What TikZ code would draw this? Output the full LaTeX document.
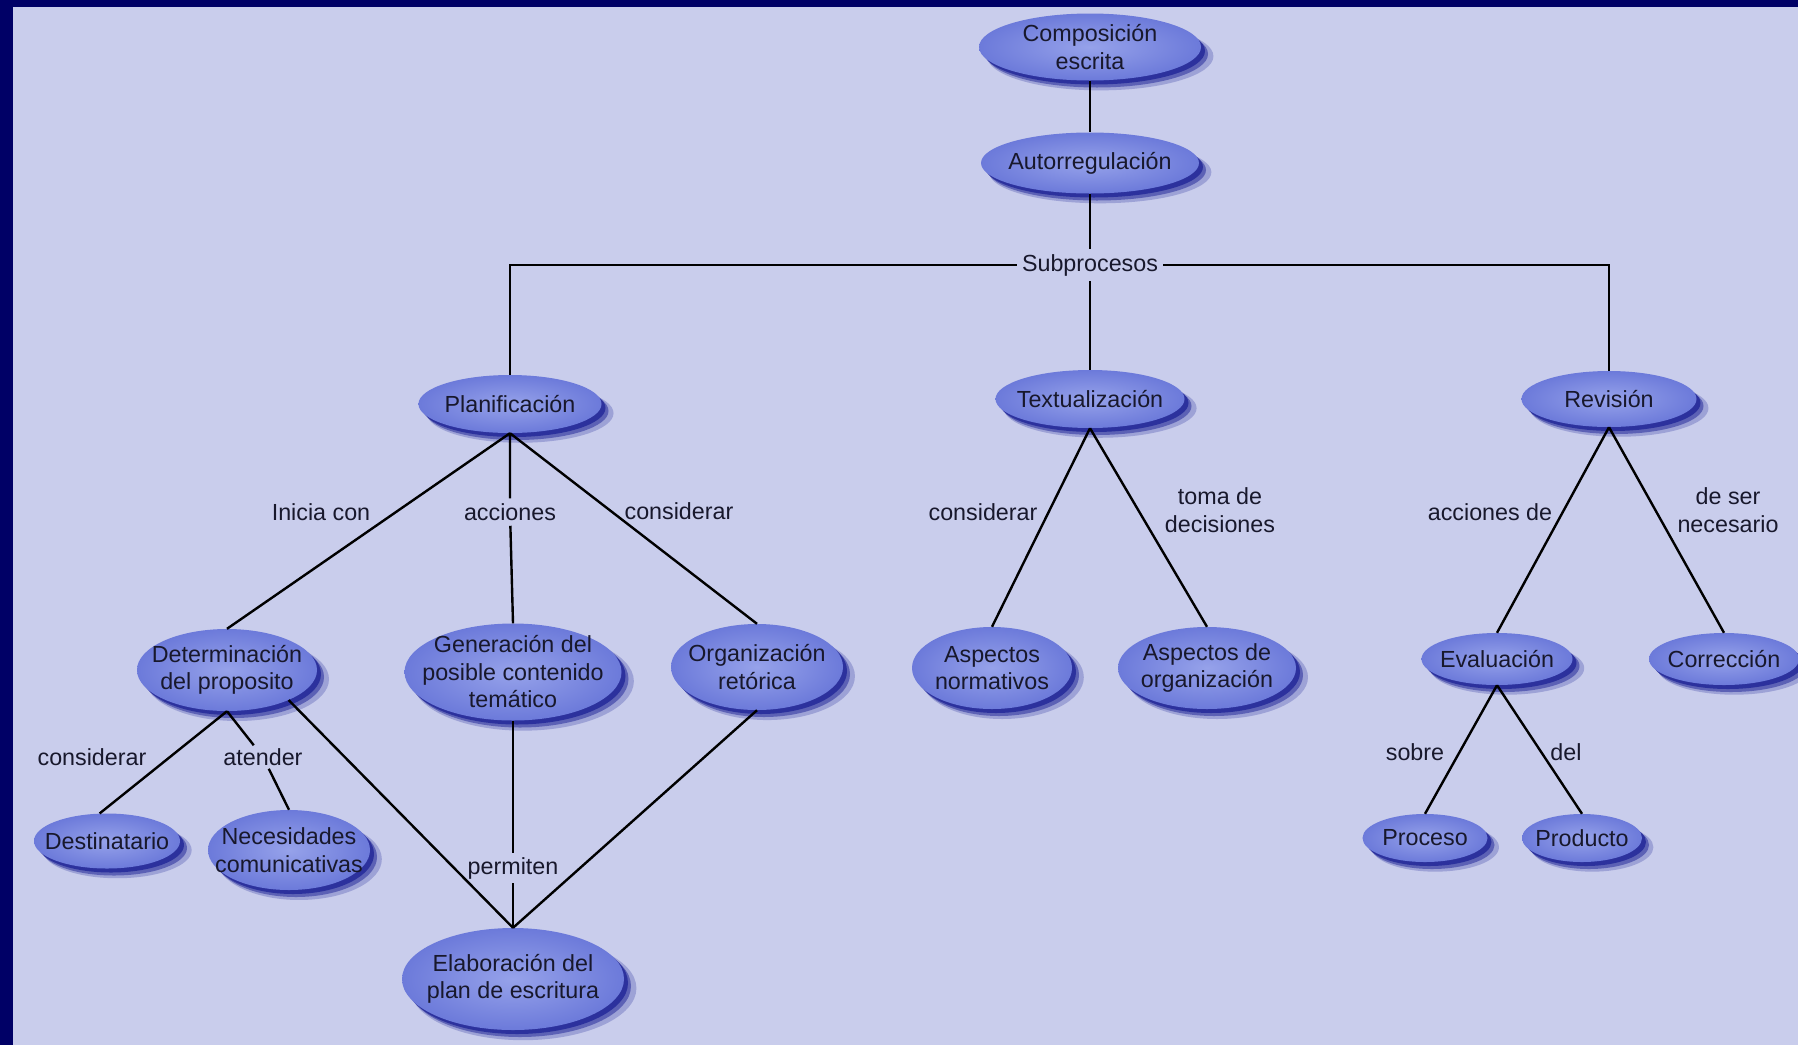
\documentclass[tikz,border=0pt]{standalone}
\usepackage{fontspec}
\setmainfont{Liberation Sans}
\usetikzlibrary{shapes.geometric,shadows}
\definecolor{navy}{RGB}{0,0,102}
\definecolor{bgc}{RGB}{201,205,236}
\definecolor{ellin}{RGB}{150,162,234}
\definecolor{ellout}{RGB}{108,122,218}
\definecolor{shd}{RGB}{28,34,150}
\definecolor{txt}{RGB}{24,24,44}
\tikzset{
  fnt/.style={font=\fontsize{23.3}{27.5}\selectfont, text=txt},
  bub/.style={ellipse, inner sep=0pt,
    general shadow={fill=shd, opacity=0.25, shadow xshift=10pt, shadow yshift=-9pt, shadow scale=1.02},
    general shadow={fill=shd, opacity=0.5, shadow xshift=7pt, shadow yshift=-7pt},
    general shadow={fill=shd, opacity=0.75, shadow xshift=4pt, shadow yshift=-4pt},
    inner color=ellin, outer color=ellout},
  lab/.style={fnt, inner sep=3pt, align=center},
  con/.style={draw=black, line width=2.4pt},
}
\begin{document}
\begin{tikzpicture}[x=1pt, y=-1pt]
\fill[navy] (0,0) rectangle (1798,1045);
\fill[bgc] (13,7) rectangle (1798,1045);
\useasboundingbox (0,0) rectangle (1798,1045);

% concept nodes
\node[bub, minimum width=222pt, minimum height=67pt, label={[lab]center:Composición\\escrita}] (comp) at (1090,47) {};
\node[bub, minimum width=218pt, minimum height=61pt, label={[lab]center:Autorregulación}] (auto) at (1090,163) {};
\node[bub, minimum width=183pt, minimum height=58pt, label={[lab]center:Planificación}] (plan) at (510,404) {};
\node[bub, minimum width=189pt, minimum height=58pt, label={[lab]center:Textualización}] (tex) at (1090,399) {};
\node[bub, minimum width=175pt, minimum height=56pt, label={[lab]center:Revisión}] (rev) at (1609,399) {};
\node[bub, minimum width=180pt, minimum height=82pt, label={[lab]center:Determinación\\del proposito}] (det) at (227,670) {};
\node[bub, minimum width=217pt, minimum height=97pt, label={[lab]center:Generación del\\posible contenido\\temático}] (gen) at (513,672) {};
\node[bub, minimum width=172pt, minimum height=86pt, label={[lab]center:Organización\\retórica}] (org) at (757,667) {};
\node[bub, minimum width=146pt, minimum height=55pt, label={[lab]center:Destinatario}] (dest) at (107,841) {};
\node[bub, minimum width=162pt, minimum height=80pt, label={[lab]center:Necesidades\\comunicativas}] (nec) at (289,850) {};
\node[bub, minimum width=222pt, minimum height=102pt, label={[lab]center:Elaboración del\\plan de escritura}] (ela) at (513,979) {};
\node[bub, minimum width=160pt, minimum height=82pt, label={[lab]center:Aspectos\\normativos}] (an) at (992,668) {};
\node[bub, minimum width=178pt, minimum height=82pt, label={[lab]center:Aspectos de\\organización}] (ao) at (1207,668) {};
\node[bub, minimum width=151pt, minimum height=52pt, label={[lab]center:Evaluación}] (eva) at (1497,659) {};
\node[bub, minimum width=150pt, minimum height=52pt, label={[lab]center:Corrección}] (cor) at (1724,659) {};
\node[bub, minimum width=125pt, minimum height=48pt, label={[lab]center:Proceso}] (proc) at (1425,838) {};
\node[bub, minimum width=120pt, minimum height=48pt, label={[lab]center:Producto}] (prod) at (1582,838) {};

% linking words
\node[lab, inner sep=5pt] (sub) at (1090,265) {Subprocesos};
\node[lab] (l1) at (321,512) {Inicia con};
\node[lab, inner sep=5pt] (l2) at (510,512) {acciones};
\node[lab] (l3) at (679,511) {considerar};
\node[lab] (l4) at (92,757) {considerar};
\node[lab] (l5) at (263,757) {atender};
\node[lab, inner sep=4pt] (l6) at (513,868) {permiten};
\node[lab] (l7) at (983,512) {considerar};
\node[lab] (l8) at (1220,510) {toma de\\decisiones};
\node[lab] (l9) at (1490,512) {acciones de};
\node[lab] (l10) at (1728,510) {de ser\\necesario};
\node[lab] (l11) at (1415,752) {sobre};
\node[lab] (l12) at (1566,752) {del};

% connectors
\draw[con] (comp.south) -- (auto.north);
\draw[con] (auto.south) -- (sub);
\draw[con] (sub) -- (tex.north);
\draw[con] (sub) -| (plan.north);
\draw[con] (sub) -| (rev.north);

\draw[con] (plan.south) -- (det.north);
\draw[con] (plan.south) -- (l2) -- (gen.north);
\draw[con] (plan.south) -- (org.north);

\draw[con] (det.south) -- (dest.105);
\draw[con] (det.south) -- (l5) -- (nec.north);
\draw[con] (det.-26) -- (ela.north);
\draw[con] (gen.south) -- (l6) -- (ela.north);
\draw[con] (org.south) -- (ela.north);

\draw[con] (tex.south) -- (an.north);
\draw[con] (tex.south) -- (ao.north);

\draw[con] (rev.south) -- (eva.north);
\draw[con] (rev.south) -- (cor.north);

\draw[con] (eva.south) -- (proc.north);
\draw[con] (eva.south) -- (prod.north);
\end{tikzpicture}
\end{document}
